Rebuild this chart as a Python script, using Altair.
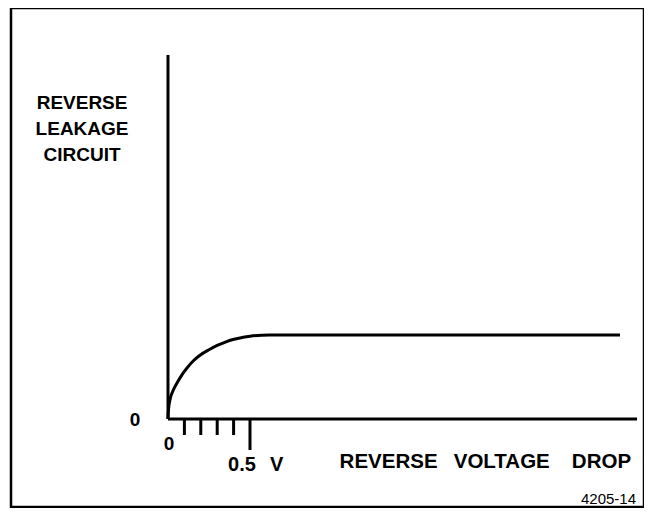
import altair as alt
import pandas as pd

# Curve (x in volts, y in units of roughly the plateau current)
curve_x = [0, 0.003, 0.012, 0.03, 0.055, 0.085, 0.116, 0.155, 0.195, 0.25, 0.3, 0.35, 0.396, 0.45, 0.5, 0.62, 2.756]
curve_y = [0, 0.11, 0.224, 0.33, 0.424, 0.52, 0.60, 0.685, 0.75, 0.815, 0.865, 0.905, 0.935, 0.958, 0.974, 0.988, 0.988]

minor_ticks = [0.1, 0.2, 0.3, 0.4]
major_ticks = [0.5]
x_axis_end = 2.860
y_axis_top = 4.282

x_dom = [-0.9573, 2.9025]
y_dom = [-1.0353, 4.8353]

xs = alt.Scale(domain=x_dom, nice=False, zero=False)
ys = alt.Scale(domain=y_dom, nice=False, zero=False)

FONT = "Liberation Sans"

curve = alt.Chart(pd.DataFrame({"x": curve_x, "y": curve_y})).mark_line(
    color="black", strokeWidth=3, interpolate="monotone"
).encode(x=alt.X("x:Q", scale=xs, axis=None), y=alt.Y("y:Q", scale=ys, axis=None))

yaxis = alt.Chart(pd.DataFrame({"x": [0], "y": [0], "y2": [y_axis_top]})).mark_rule(
    color="black", strokeWidth=3
).encode(x=alt.X("x:Q", scale=xs, axis=None), y=alt.Y("y:Q", scale=ys, axis=None), y2="y2:Q")

xaxis = alt.Chart(pd.DataFrame({"x": [0], "x2": [x_axis_end], "y": [0]})).mark_rule(
    color="black", strokeWidth=3
).encode(x=alt.X("x:Q", scale=xs, axis=None), x2="x2:Q", y=alt.Y("y:Q", scale=ys, axis=None))

ticks_df = pd.DataFrame({
    "x": minor_ticks + major_ticks,
    "y": [0] * (len(minor_ticks) + len(major_ticks)),
    "y2": [-0.188] * len(minor_ticks) + [-0.365] * len(major_ticks),
})
ticks = alt.Chart(ticks_df).mark_rule(color="black", strokeWidth=3).encode(
    x=alt.X("x:Q", scale=xs, axis=None), y=alt.Y("y:Q", scale=ys, axis=None), y2="y2:Q"
)

center_labels = pd.DataFrame({
    "x": [-0.524, -0.524, -0.524, -0.201, 0.006],
    "y": [3.718, 3.412, 3.106, -0.012, -0.294],
    "t": ["REVERSE", "LEAKAGE", "CIRCUIT", "0", "0"],
})
ctext = alt.Chart(center_labels).mark_text(
    font=FONT, fontWeight="bold", fontSize=19, align="center", baseline="middle", color="black"
).encode(x=alt.X("x:Q", scale=xs, axis=None), y=alt.Y("y:Q", scale=ys, axis=None), text="t:N")

left_labels = pd.DataFrame({
    "x": [0.366, 0.622],
    "y": [-0.541, -0.541],
    "t": ["0.5", "V"],
})
ltext = alt.Chart(left_labels).mark_text(
    font=FONT, fontWeight="bold", fontSize=20, align="left", baseline="middle", color="black"
).encode(x=alt.X("x:Q", scale=xs, axis=None), y=alt.Y("y:Q", scale=ys, axis=None), text="t:N")

title_words = pd.DataFrame({
    "x": [1.345, 2.035, 2.643],
    "y": [-0.506, -0.506, -0.506],
    "t": ["REVERSE", "VOLTAGE", "DROP"],
})
wtext = alt.Chart(title_words).mark_text(
    font=FONT, fontWeight="bold", fontSize=20.5, align="center", baseline="middle", color="black"
).encode(x=alt.X("x:Q", scale=xs, axis=None), y=alt.Y("y:Q", scale=ys, axis=None), text="t:N")

code_labels = pd.DataFrame({"x": [2.854], "y": [-0.941], "t": ["4205-14"]})
codetext = alt.Chart(code_labels).mark_text(
    font=FONT, fontSize=15, align="right", baseline="middle", color="black"
).encode(x=alt.X("x:Q", scale=xs, axis=None), y=alt.Y("y:Q", scale=ys, axis=None), text="t:N")

chart = alt.layer(curve, yaxis, xaxis, ticks, ctext, ltext, wtext, codetext).properties(
    width=633,
    height=499,
    autosize=alt.AutoSizeParams(type="none"),
    padding={"left": 3, "top": 0, "right": 0, "bottom": 1},
    background="white",
).configure_view(stroke="black", strokeWidth=2.5)

chart.save("out.html", embed_options={"renderer": "svg", "actions": False})
